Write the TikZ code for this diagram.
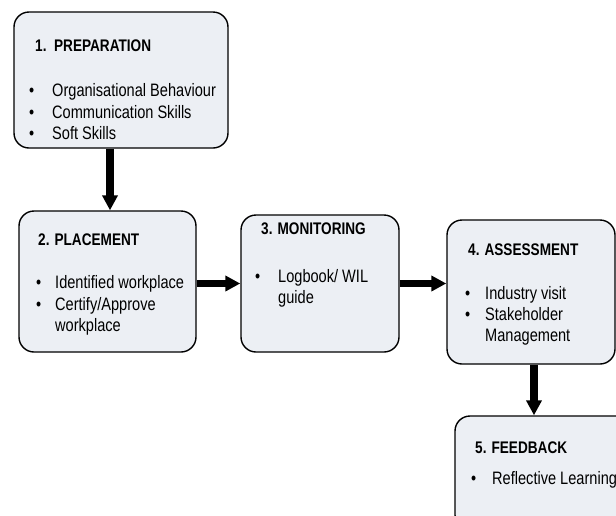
\documentclass[tikz,border=0pt]{standalone}
\usepackage{fontspec}
\setmainfont{Liberation Sans}[FakeStretch=0.81]
\usetikzlibrary{arrows.meta,calc}
\definecolor{boxfill}{RGB}{236,239,244}
\tikzset{
  stagebox/.style={draw=black, line width=1.4pt, fill=boxfill, rounded corners=15pt, inner sep=0pt},
  ttl/.style={anchor=base west, inner sep=0pt, font=\fontsize{16.8}{20}\selectfont\bfseries},
  itm/.style={anchor=base west, inner sep=0pt, font=\fontsize{18}{21}\selectfont},
  bul/.style={anchor=base west, inner sep=0pt, font=\fontsize{18}{21}\selectfont},
  flow/.style={line width=7.5pt, -{Triangle[width=15pt,length=15pt]}}
}
\begin{document}
\begin{tikzpicture}[x=1pt,y=-1pt]
\path[clip] (0,0) rectangle (616,515);
\fill[white] (0,0) rectangle (616,515);
% boxes
\node[stagebox, minimum width=214pt, minimum height=136pt] (b1) at (121,80) {};
\node[stagebox, minimum width=177pt, minimum height=141pt] (b2) at (107.5,281.5) {};
\node[stagebox, minimum width=158pt, minimum height=137pt] (b3) at (320,283.5) {};
\node[stagebox, minimum width=168pt, minimum height=144pt] (b4) at (531,292) {};
\node[stagebox, minimum width=185pt, minimum height=114pt] (b5) at (547.5,473) {};
% box 1
\node[ttl] (t1) at (35,51) {1.\ \ PREPARATION};
\node[bul] (d11) at (29,96) {•};
\node[itm] (i11) at (52,96) {Organisational Behaviour};
\node[bul] (d12) at (29,118) {•};
\node[itm] (i12) at (52,118) {Communication Skills};
\node[bul] (d13) at (29,139) {•};
\node[itm] (i13) at (52,139) {Soft Skills};
% box 2
\node[ttl] (t2) at (38,245) {2. PLACEMENT};
\node[bul] (d21) at (36,288) {•};
\node[itm] (i21) at (55,288) {Identified workplace};
\node[bul] (d22) at (36,310) {•};
\node[itm] (i22) at (55,310) {Certify/Approve};
\node[itm] (i23) at (55,331) {workplace};
% box 3
\node[ttl] (t3) at (261,234) {3. MONITORING};
\node[bul] (d31) at (255,282) {•};
\node[itm] (i31) at (278,282) {Logbook/ WIL};
\node[itm] (i32) at (278,303) {guide};
% box 4
\node[ttl] (t4) at (468,255) {4. ASSESSMENT};
\node[bul] (d41) at (465,299) {•};
\node[itm] (i41) at (485,299) {Industry visit};
\node[bul] (d42) at (465,320) {•};
\node[itm] (i42) at (485,320) {Stakeholder};
\node[itm] (i43) at (485,341) {Management};
% box 5
\node[ttl] (t5) at (475,453) {5. FEEDBACK};
\node[bul] (d51) at (471,484) {•};
\node[itm] (i51) at (492,484) {Reflective Learning};
% arrows
\draw[flow] ([xshift=-11pt]b1.south) -- ([xshift=-11pt]b1.south |- b2.north);
\draw[flow] (b2.east |- b3.center) -- (b3.west);
\draw[flow] (b3.east) -- (b3.east -| b4.west);
\draw[flow] ([xshift=3pt]b4.south) -- ([xshift=3pt]b4.south |- b5.north);
\end{tikzpicture}
\end{document}
